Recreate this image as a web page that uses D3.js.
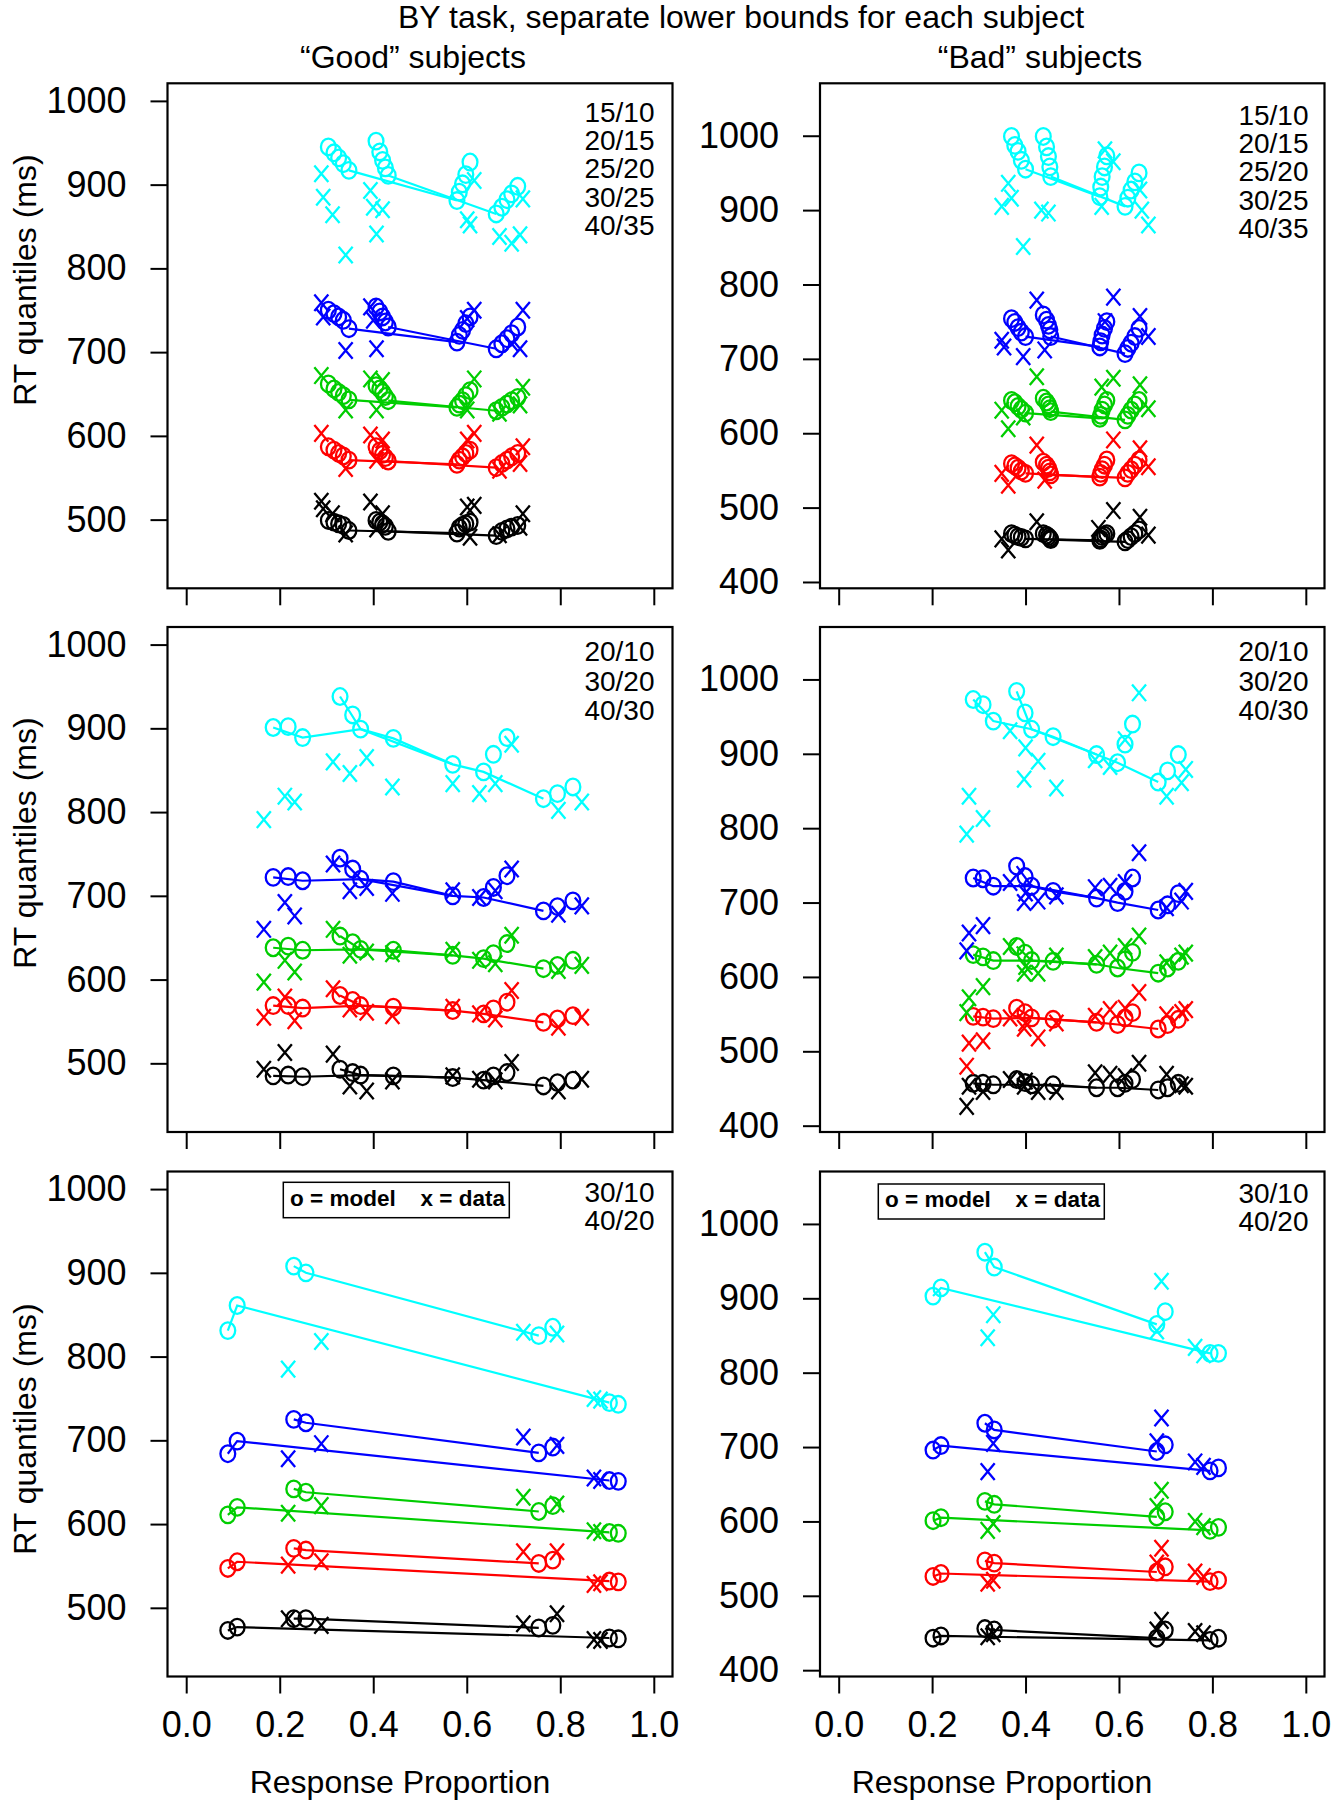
<!DOCTYPE html>
<html><head><meta charset="utf-8">
<script src="https://cdn.jsdelivr.net/npm/d3@7"></script>
<style>
body{margin:0;background:#fff}
text{font-family:"Liberation Sans",Arial,Helvetica,sans-serif;fill:#000}
</style>
</head><body>
<svg id="chart" width="1338" height="1800"></svg>
<script>
// ---------- labels / ticks ----------
const quantileColors = ["#000000", "#FF0000", "#00CD00", "#0000FF", "#00FFFF"]; // .1 .3 .5 .7 .9 quantiles
const yTicksGood = [500, 600, 700, 800, 900, 1000];
const yTicksBad = [400, 500, 600, 700, 800, 900, 1000];
const xTicks = [0, 0.2, 0.4, 0.6, 0.8, 1.0];
const conditionsTop = ["15/10", "20/15", "25/20", "30/25", "40/35"];
const conditionsMid = ["20/10", "30/20", "40/30"];
const conditionsBot = ["30/10", "40/20"];

// ---------- top row (5 conditions) ----------
const goodTopModelP = [0.304,0.316,0.326,0.336,0.348, 0.406,0.414,0.420,0.426,0.432, 0.607,0.598,0.591,0.584,0.579, 0.709,0.696,0.686,0.675,0.663];
const goodTopModelRT = [
  [499,497,495,493,487, 499,497,495,492,486, 497,495,493,490,484, 493,491,489,486,481],
  [587,583,579,576,571, 587,582,578,574,570, 583,579,575,571,566, 579,575,571,567,562],
  [662,656,652,648,643, 660,656,652,647,642, 654,648,642,638,634, 646,642,638,634,630],
  [750,746,742,738,728, 754,748,742,736,730, 742,734,726,720,712, 730,722,716,710,704],
  [945,938,932,925,917, 952,939,929,920,911, 927,912,901,891,881, 898,889,882,873,865]
];
const goodTopDataP = [0.289,0.293,0.313,0.329,0.341, 0.394,0.400,0.407,0.414,0.420, 0.616,0.607,0.601,0.596,0.593, 0.720,0.714,0.696,0.686,0.670];
const goodTopDataRT = [
  [522,513,507,null,483, 521,null,489,null,507, 517,479,515,null,null, 507,491,null,null,482],
  [603,null,null,null,561, 601,null,571,null,595, 603,null,595,null,null, 587,567,null,null,559],
  [672,null,null,null,631, 668,null,631,null,666, 668,null,631,null,null, 658,637,null,null,627],
  [759,742,null,null,702, 754,738,704,null,null, 750,null,740,null,null, 750,704,710,null,null],
  [913,885,864,null,816, 893,873,841,null,870, 905,852,858,null,null, 883,840,830,null,838]
];
const badTopModelP = [0.370,0.377,0.384,0.391,0.400, 0.438,0.445,0.449,0.452,0.454, 0.574,0.569,0.564,0.561,0.559, 0.643,0.634,0.626,0.619,0.613];
const badTopModelRT = [
  [465,463,461,460,458, 465,463,461,459,457, 465,463,461,458,456, 470,465,461,457,454],
  [559,556,553,549,546, 561,557,553,548,544, 564,557,551,546,541, 564,557,551,546,540],
  [644,641,636,632,627, 647,642,638,633,629, 644,638,631,624,620, 644,638,631,624,618],
  [754,749,742,736,730, 759,752,745,739,730, 750,741,732,723,716, 741,730,721,714,707],
  [999,987,979,967,955, 999,985,972,958,945, 973,958,945,931,918, 950,938,927,916,905]
];
const badTopDataP = [0.349,0.354,0.363,0.370,0.395, 0.424,0.434,0.441,0.449,0.456, 0.588,0.577,0.570,0.563,0.556, 0.663,0.656,0.649,0.645,0.634];
const badTopDataRT = [
  [458,null,443,null,null, 481,null,null,null,null, 496,null,null,null,472, 463,null,null,487,null],
  [546,null,530,null,null, 584,null,537,null,null, 591,null,null,null,null, 555,null,null,579,null],
  [631,null,606,null,622, 676,null,null,null,null, 674,null,null,662,null, 633,null,null,665,null],
  [725,716,null,null,703, 779,null,712,null,null, 783,null,750,null,null, 730,null,null,757,null],
  [905,null,936,916,851, null,900,null,896,null, 965,null,981,905,null, 880,null,900,927,null]
];
const topLines = [[4, 14], [9, 19]];

// ---------- middle row (3 conditions) ----------
const goodMidModelP = [0.186,0.218,0.249, 0.329,0.356,0.373, 0.443, 0.570, 0.636,0.657,0.686, 0.764,0.794,0.827];
const goodMidModelRT = [
  [485,486,484, 493,489,486, 485, 483, 480,485,489, 473,477,480],
  [569,569,566, 581,575,569, 567, 563, 559,565,573, 549,553,557],
  [638,640,635, 652,644,636, 635, 629, 625,631,643, 613,617,623],
  [722,723,718, 745,732,720, 717, 700, 698,710,724, 682,687,694],
  [901,902,889, 938,916,899, 888, 857, 848,869,889, 816,822,830]
];
const goodMidDataP = [0.166,0.211,0.232, 0.314,0.350,0.386, 0.441, 0.570, 0.627,0.661,0.696, 0.779,0.796,0.846];
const goodMidDataRT = [
  [493,513,null, 511,473,467, 479, 485, 481,479,501, null,467,481],
  [555,579,551, 589,565,561, 557, 567, 559,553,587, null,543,555],
  [597,623,609, 660,629,633, 631, 635, 623,619,653, null,611,617],
  [660,692,676, 738,706,710, 703, 706, 698,706,732, null,678,688],
  [791,819,812, 860,846,865, 830, 834, 822,834,881, null,802,812]
];
const badMidModelP = [0.288,0.309,0.331, 0.381,0.399,0.413, 0.459, 0.552, 0.597,0.613,0.629, 0.684,0.704,0.727];
const badMidModelRT = [
  [457,457,455, 462,458,455, 455, 451, 451,457,462, 448,451,457],
  [547,546,544, 558,552,545, 543, 539, 536,545,552, 530,536,543],
  [630,627,622, 641,632,622, 621, 617, 612,623,633, 605,612,621],
  [733,732,722, 749,735,722, 715, 706, 700,715,733, 690,697,712],
  [973,966,944, 984,955,933, 923, 899, 888,913,940, 862,877,899]
];
const badMidDataP = [0.274,0.279,0.309, 0.367,0.397,0.400,0.427, 0.466, 0.549, 0.581,0.613,0.643, 0.702,0.734,0.743];
const badMidDataRT = [
  [426,453,446, 462,453,460,446, 446, 471, 469,466,484, 469,455,453],
  [480,511,514, 545,531,538,518, 538, 547, 556,558,579, 549,552,556],
  [552,572,587, 641,605,614,605, 628, 626, 632,641,655, 619,628,632],
  [635,659,669, 727,700,713,702, 709, 720, 722,727,767, 693,702,715],
  [792,843,813, 931,866,908,890, 854, 892, 883,919,982, 843,861,879]
];
const midLines = [[0, 2, 5, 7, 8, 11], [3, 5, 6, 7]];

// ---------- bottom row (2 conditions) ----------
const goodBotModelP = [0.089,0.109, 0.230,0.256, 0.754,0.784, 0.905,0.924];
const goodBotModelRT = [
  [473,477, 487,487, 476,479, 464,463],
  [547,555, 571,569, 553,557, 532,531],
  [611,620, 642,638, 615,622, 590,589],
  [684,699, 725,721, 685,692, 652,651],
  [831,861, 908,900, 825,835, 745,743]
];
const goodBotDataP = [0.218,0.289, 0.721,0.793, 0.872,0.886];
const goodBotDataRT = [
  [487,479, 481,493, 462,461],
  [551,555, 567,567, 528,530],
  [613,622, 632,624, 592,590],
  [678,696, 704,694, 655,652],
  [785,818, 829,827, 750,748]
];
const badBotModelP = [0.202,0.219, 0.313,0.333, 0.681,0.699, 0.795,0.813];
const badBotModelRT = [
  [443,446, 456,454, 443,454, 440,443],
  [526,530, 547,544, 532,539, 519,521],
  [601,605, 627,623, 606,613, 588,592],
  [696,702, 732,723, 694,703, 668,672],
  [903,914, 962,942, 865,882, 826,826]
];
const badBotDataP = [0.319,0.331, 0.681,0.691, 0.763,0.781];
const badBotDataRT = [
  [445,449, 454,467, 452,449],
  [517,521, 544,564, 532,526],
  [588,597, 620,642, 600,593],
  [667,705, 707,739, 680,674],
  [847,878, 856,923, 834,824]
];
const botLines = [[0, 1, 6], [2, 3, 4]];

// ---------- layout ----------
const svg = d3.select("#chart");
const colX = [[167.5, 672.5], [820, 1324.5]];
const rowY = [[83.3, 588.3], [627, 1132], [1171.5, 1676.5]];
const yDomains = [[418, 1021], [391.5, 1070.5]];
const legendRight = [654.5, 1308.5];
const legendFirst = [[112, 115], [651.5, 651.5], [1192, 1193]];
const legendStep = [28.3, 29.3, 28.3];
const yLabelCenter = [280, 843, 1429];

const panels = [
  {row:0,col:0,mp:goodTopModelP,mr:goodTopModelRT,dp:goodTopDataP,dr:goodTopDataRT,lines:topLines,cond:conditionsTop},
  {row:0,col:1,mp:badTopModelP,mr:badTopModelRT,dp:badTopDataP,dr:badTopDataRT,lines:topLines,cond:conditionsTop},
  {row:1,col:0,mp:goodMidModelP,mr:goodMidModelRT,dp:goodMidDataP,dr:goodMidDataRT,lines:midLines,cond:conditionsMid},
  {row:1,col:1,mp:badMidModelP,mr:badMidModelRT,dp:badMidDataP,dr:badMidDataRT,lines:midLines,cond:conditionsMid},
  {row:2,col:0,mp:goodBotModelP,mr:goodBotModelRT,dp:goodBotDataP,dr:goodBotDataRT,lines:botLines,cond:conditionsBot},
  {row:2,col:1,mp:badBotModelP,mr:badBotModelRT,dp:badBotDataP,dr:badBotDataRT,lines:botLines,cond:conditionsBot}
];

panels.forEach(p => {
  const [x0, x1] = colX[p.col];
  const [y0, y1] = rowY[p.row];
  const x = d3.scaleLinear().domain([-0.04, 1.04]).range([x0, x1]);
  const y = d3.scaleLinear().domain(yDomains[p.col]).range([y1, y0]);
  const g = svg.append("g");

  // y axis
  const ya = g.append("g").attr("transform", `translate(${x0},0)`)
    .call(d3.axisLeft(y).tickValues(p.col === 0 ? yTicksGood : yTicksBad).tickSize(17).tickPadding(24).tickFormat(d3.format("d")));
  ya.select(".domain").remove();
  ya.selectAll("line").attr("stroke", "#000").attr("stroke-width", 2);
  ya.selectAll("text").style("font-size", "36px").attr("fill", "#000");

  // x axis
  const xa = g.append("g").attr("transform", `translate(0,${y1})`)
    .call(d3.axisBottom(x).tickValues(xTicks).tickSize(17).tickPadding(17.6).tickFormat(d3.format(".1f")));
  xa.select(".domain").remove();
  xa.selectAll("line").attr("stroke", "#000").attr("stroke-width", 2);
  xa.selectAll("text").style("font-size", "36px").attr("fill", "#000");
  if (p.row !== 2) xa.selectAll("text").remove();

  // box
  g.append("rect").attr("x", x0).attr("y", y0).attr("width", x1 - x0).attr("height", y1 - y0)
    .attr("fill", "none").attr("stroke", "#000").attr("stroke-width", 2.2);

  // condition legend
  g.append("g").selectAll("text").data(p.cond).join("text")
    .attr("x", legendRight[p.col])
    .attr("y", (d, i) => legendFirst[p.row][p.col] + i * legendStep[p.row])
    .attr("dy", "0.35em").attr("text-anchor", "end").style("font-size", "28px").text(d => d);

  // model lines
  p.mr.forEach((rts, q) => {
    p.lines.forEach(idx => {
      const pts = idx.map(i => [x(p.mp[i]), y(rts[i])]);
      g.append("path").attr("d", d3.line()(pts)).attr("fill", "none")
        .attr("stroke", quantileColors[q]).attr("stroke-width", 2.2);
    });
  });
  // model circles ("o")
  p.mr.forEach((rts, q) => {
    g.append("g").selectAll("ellipse").data(rts.map((v, i) => [p.mp[i], v])).join("ellipse")
      .attr("cx", d => x(d[0])).attr("cy", d => y(d[1])).attr("rx", 7.4).attr("ry", 8.3)
      .attr("fill", "none").attr("stroke", quantileColors[q]).attr("stroke-width", 2.3);
  });
  // data crosses ("x")
  p.dr.forEach((rts, q) => {
    const pts = rts.map((v, i) => [p.dp[i], v]).filter(d => d[1] !== null);
    g.append("g").selectAll("path").data(pts).join("path")
      .attr("d", d => { const cx = x(d[0]), cy = y(d[1]); return `M${cx-7},${cy-8.3}L${cx+7},${cy+8.3}M${cx-7},${cy+8.3}L${cx+7},${cy-8.3}`; })
      .attr("fill", "none").attr("stroke", quantileColors[q]).attr("stroke-width", 2.3);
  });

  // y label on left column
  if (p.col === 0) {
    svg.append("text").attr("transform", `translate(36,${yLabelCenter[p.row]}) rotate(-90)`)
      .attr("text-anchor", "middle").style("font-size", "32px").text("RT quantiles (ms)");
  }
});

// model/data key in bottom panels
const keyBoxes = [{x: 283.3, y: 1182.3, w: 226, h: 35.4, tx0: 290, tx1: 505, base: 1205.7},
                  {x: 878.3, y: 1184, w: 226, h: 35, tx0: 885, tx1: 1100, base: 1207.3}];
keyBoxes.forEach(k => {
  svg.append("rect").attr("x", k.x).attr("y", k.y).attr("width", k.w).attr("height", k.h)
    .attr("fill", "#fff").attr("stroke", "#000").attr("stroke-width", 1.5);
  svg.append("text").attr("x", k.tx0).attr("y", k.base).style("font-size", "22.5px").style("font-weight", "bold").text("o = model");
  svg.append("text").attr("x", k.tx1).attr("y", k.base).attr("text-anchor", "end").style("font-size", "22.5px").style("font-weight", "bold").text("x = data");
});

// titles
svg.append("text").attr("x", 741).attr("y", 28).attr("text-anchor", "middle").style("font-size", "32px")
  .text("BY task, separate lower bounds for each subject");
svg.append("text").attr("x", 413).attr("y", 68).attr("text-anchor", "middle").style("font-size", "32px").text("\u201CGood\u201D subjects");
svg.append("text").attr("x", 1040).attr("y", 68).attr("text-anchor", "middle").style("font-size", "32px").text("\u201CBad\u201D subjects");
svg.append("text").attr("x", 400).attr("y", 1793).attr("text-anchor", "middle").style("font-size", "32px").text("Response Proportion");
svg.append("text").attr("x", 1002).attr("y", 1793).attr("text-anchor", "middle").style("font-size", "32px").text("Response Proportion");
</script>
</body></html>
